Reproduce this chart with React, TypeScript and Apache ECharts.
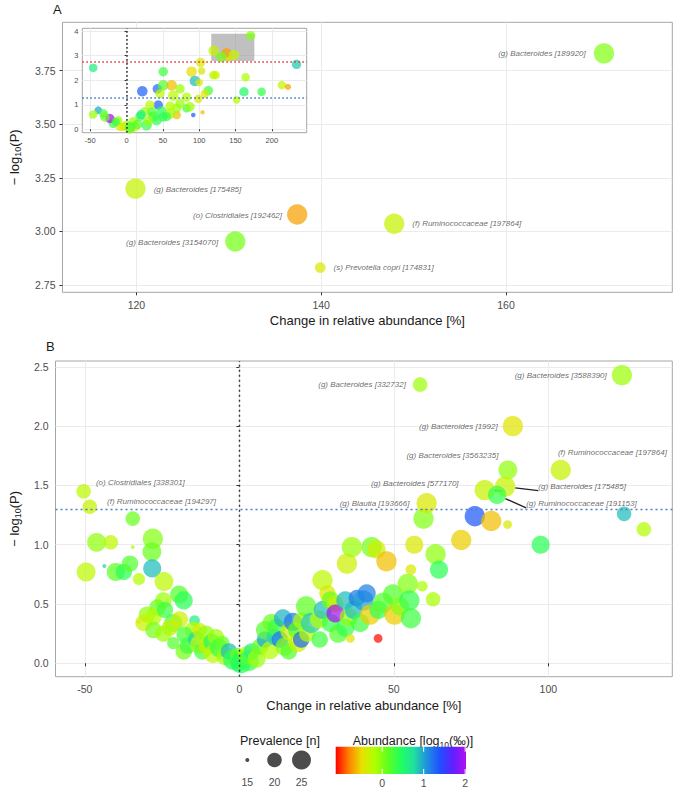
import React, { useEffect, useRef } from "react";
import * as echarts from "echarts";

const FONT = "'Liberation Sans', Arial, Helvetica, sans-serif";

// ---------------- Panel A : most significant features ----------------
const aLabels = [
  "(g) Bacteroides [189920]",
  "(g) Bacteroides [175485]",
  "(o) Clostridiales [192462]",
  "(g) Bacteroides [3154070]",
  "(f) Ruminococcaceae [197864]",
  "(s) Prevotella copri [174831]",
];
const aChange = [170.6, 119.9, 137.4, 130.7, 147.9, 139.9];
const aLogP = [3.831, 3.2, 3.079, 2.953, 3.036, 2.831];
const aPrevalence = [27, 27, 27, 27, 27, 17];
const aAbundance = [0.0, -0.3, -0.7, 0.05, -0.3, -0.4];

// ---------------- Panel B : labelled features ----------------
const bLabels = [
  "(o) Clostridiales [338301]",
  "(f) Ruminococcaceae [194297]",
  "(g) Bacteroides [332732]",
  "(g) Bacteroides [3588390]",
  "(g) Bacteroides [1992]",
  "(g) Bacteroides [3563235]",
  "(f) Ruminococcaceae [197864]",
  "(g) Bacteroides [577170]",
  "(g) Bacteroides [175485]",
  "(g) Ruminococcaceae [191153]",
  "(g) Blautia [193666]",
];
const bLabChange = [-50.4, -48.4, 58.5, 123.8, 88.5, 86.9, 104.0, 79.4, 86.0, 83.4, 60.6];
const bLabLogP = [1.45, 1.32, 2.35, 2.43, 2.0, 1.63, 1.63, 1.46, 1.49, 1.42, 1.35];
const bLabPrevalence = [20, 20, 20, 27, 27, 25, 27, 27, 27, 24, 27];
const bLabAbundance = [-0.25, -0.3, -0.1, -0.1, -0.45, -0.05, -0.3, -0.3, -0.3, 0.35, -0.4];

// ---------------- Panel B : other features [change %, -log10 P, prevalence n, abundance log10 ‰] ----------------
const bDecreased: number[][] = [
  [-34.5, 1.22, 20, 0.1], [-46.2, 1.02, 25, -0.05], [-41.6, 1.02, 20, -0.25], [-28.0, 1.05, 27, 0.0],
  [-34.5, 0.98, 15, -0.2], [-28.3, 0.94, 25, 0.1], [-49.6, 0.77, 25, -0.25], [-43.7, 0.82, 15, 0.8],
  [-40.0, 0.77, 24, 0.15], [-37.4, 0.77, 22, 0.4], [-35.4, 0.84, 22, 0.2], [-28.2, 0.8, 24, 0.9],
  [-32.5, 0.71, 18, -0.2], [-24.4, 0.69, 25, -0.25], [-19.5, 0.58, 24, 0.2], [-18.0, 0.53, 24, 0.4],
  [-24.6, 0.53, 22, -0.1], [-26.5, 0.47, 22, 0.1], [-29.9, 0.41, 22, -0.05], [-32.6, 0.35, 15, -0.35],
  [-31.0, 0.34, 22, -0.35], [-27.8, 0.39, 22, -0.2], [-24.1, 0.45, 22, 0.3], [-21.4, 0.34, 24, 0.3],
  [-22.5, 0.3, 22, -0.3], [-27.8, 0.28, 22, 0.05], [-24.6, 0.25, 22, -0.1], [-19.3, 0.37, 22, -0.35],
  [-14.5, 0.36, 17, 0.6], [-15.0, 0.28, 22, -0.15], [-17.7, 0.24, 22, 0.25], [-21.4, 0.17, 18, 0.2],
  [-18.0, 0.1, 22, 0.05], [-16.7, 0.15, 22, 0.3], [-14.0, 0.2, 22, 0.8], [-13.0, 0.16, 24, -0.2],
  [-12.9, 0.28, 20, -0.35], [-12.0, 0.1, 22, 0.25], [-10.8, 0.25, 22, -0.05], [-10.3, 0.15, 24, -0.35],
  [-9.0, 0.18, 22, 0.5], [-8.5, 0.08, 24, -0.25], [-7.6, 0.22, 22, -0.1], [-6.6, 0.13, 24, 0.35],
  [-5.5, 0.17, 20, 0.1], [-4.5, 0.06, 24, -0.1], [-3.4, 0.1, 22, 0.9], [-2.0, 0.03, 27, 0.4],
  [-0.7, 0.07, 20, 0.1], [-0.2, 0.01, 24, 0.3],
];
const bIncreased: number[][] = [
  [0.5, 0.0, 27, 0.45], [2.5, 0.07, 24, -0.2], [3.0, 0.02, 27, 0.35], [4.0, 0.1, 22, 0.6],
  [5.6, 0.04, 24, -0.1], [6.7, 0.14, 22, 0.1], [8.3, 0.2, 22, 1.0], [8.3, 0.28, 24, 0.2],
  [9.9, 0.11, 24, -0.2], [10.4, 0.34, 24, 0.1], [11.5, 0.22, 22, 0.8], [12.0, 0.3, 24, 0.3],
  [13.1, 0.2, 22, 1.2], [14.1, 0.38, 24, 0.95], [14.6, 0.14, 24, 0.0], [16.0, 0.1, 22, 0.2],
  [16.2, 0.27, 24, -0.3], [17.3, 0.35, 24, 1.2], [18.4, 0.28, 22, 0.2], [18.9, 0.17, 24, -0.35],
  [20.0, 0.2, 22, 1.25], [20.0, 0.36, 22, -0.15], [21.6, 0.48, 27, 0.15], [22.0, 0.25, 22, -0.2],
  [23.2, 0.34, 27, 0.85], [25.8, 0.37, 24, -0.2], [26.0, 0.2, 22, 0.3], [26.9, 0.7, 27, -0.25],
  [27.0, 0.45, 24, 0.9], [28.5, 0.59, 22, -0.4], [29.5, 0.53, 24, 0.1], [29.5, 0.34, 24, 0.35],
  [31.0, 0.5, 22, -0.3], [31.1, 0.42, 24, 2.0], [32.0, 0.25, 24, 0.2], [34.3, 0.53, 24, 0.9],
  [34.3, 0.3, 24, 0.35], [34.8, 0.84, 27, -0.35], [35.4, 0.39, 24, -0.05], [35.9, 0.21, 16, -0.45],
  [36.4, 0.98, 27, -0.1], [37.0, 0.45, 24, 0.9], [38.0, 0.55, 22, 1.2], [39.1, 0.34, 24, 0.3],
  [40.1, 0.53, 27, 1.0], [41.2, 0.59, 24, 1.15], [42.3, 0.41, 27, -0.55], [42.8, 0.98, 27, 0.05],
  [44.4, 0.96, 24, -0.35], [44.9, 0.21, 16, -1.1], [45.0, 0.45, 24, 0.35], [46.5, 0.51, 27, 0.2],
  [47.6, 0.86, 27, -0.6], [49.7, 0.58, 27, 0.2], [50.2, 0.41, 27, -0.55], [52.0, 0.48, 24, 0.0],
  [54.5, 0.67, 27, 0.0], [55.0, 0.53, 27, 0.35], [55.5, 0.38, 27, 0.3], [55.5, 0.79, 17, -0.4],
  [56.6, 1.0, 24, -0.4], [59.2, 0.65, 17, -0.15], [59.6, 1.22, 27, 0.0], [62.7, 0.54, 20, -0.15],
  [63.5, 0.92, 27, -0.05], [64.6, 0.79, 24, 0.4], [71.8, 1.04, 27, -0.55], [76.2, 1.24, 27, 1.35],
  [81.5, 1.2, 27, -0.6], [86.8, 1.17, 16, -0.4], [97.5, 1.0, 24, 0.4], [124.5, 1.26, 20, 0.9],
  [130.9, 1.13, 20, -0.2],
];

// ---------------- Inset : all features ----------------
const insetPoints: number[][] = [
  [-46, 2.51, 22, 0.6], [234, 2.65, 24, 0.85], [170.8, 3.82, 24, 0.0], [119.9, 3.2, 27, -0.3],
  [137.7, 3.1, 27, -0.7], [130.7, 2.95, 27, 0.05], [147.8, 3.03, 27, -0.3], [140.0, 2.86, 17, -0.4],
  [101.9, 2.73, 24, -0.4], [103.3, 2.38, 20, -0.4], [89.5, 2.35, 27, -0.5], [50.4, 2.35, 24, 0.3],
  [94.1, 1.97, 27, 0.9], [100, 1.91, 20, -0.4], [119.4, 2.21, 22, -0.2], [122.6, 2.21, 22, -0.35],
  [163.9, 2.12, 22, -0.15], [112.5, 1.58, 24, 0.3], [161.6, 1.53, 24, 0.5], [185.9, 1.53, 22, 0.35],
  [213.9, 1.8, 22, -0.3], [222.2, 1.73, 18, -0.7], [151.5, 1.2, 20, -0.2], [21.6, 1.55, 27, 1.3],
  [42.3, 1.65, 24, 1.25], [50.4, 1.79, 27, 0.2], [45.9, 1.45, 24, -0.25], [62.0, 1.79, 27, -0.6],
  [73.5, 1.65, 24, -0.1], [64.3, 1.37, 27, -0.25], [82.6, 1.31, 24, -0.2], [98.7, 1.24, 22, -0.4],
  [107.9, 1.45, 22, -0.4], [91.8, 0.58, 16, 1.35], [104.6, 0.69, 16, -0.6], [68.9, 0.58, 22, -0.6],
  [82.6, 0.86, 22, 0.3], [73.5, 1.06, 24, -0.1], [43.6, 0.99, 24, 1.3], [32.1, 0.99, 24, -0.25],
  [25.2, 0.72, 24, -0.1], [48.2, 0.72, 27, 0.4], [59.7, 0.65, 27, -0.1], [36.7, 0.52, 27, 0.35],
  [18.4, 0.52, 24, 0.3], [9.2, 0.31, 24, -0.1], [0, 0.17, 24, -0.1], [-4.6, 0.1, 22, -0.4],
  [-18.4, 0.24, 24, 0.3], [-23, 0.44, 24, 2.0], [-39, 0.78, 20, 1.0], [-46, 0.6, 22, -0.1],
  [-32.1, 0.65, 22, 0.3], [-11.5, 0.37, 22, -0.1], [-9.2, 0.1, 22, -0.4], [4.6, 0.03, 27, -0.3],
  [11.5, 0.1, 24, -0.35], [27.5, 0.17, 27, 0.35], [41.3, 0.37, 27, 0.35], [55.1, 0.52, 24, 0.3],
  [68.9, 0.86, 24, -0.1], [87.3, 0.92, 24, -0.1], [15, 0.2, 24, 0.2], [30, 0.35, 24, -0.1],
  [50, 0.5, 24, 0.4], [60, 0.95, 24, -0.2], [-30, 0.5, 24, 0.1], [-15, 0.3, 22, 0.3],
  [5, 0.08, 27, 0.3], [20, 0.6, 24, 0.6], [35, 0.7, 24, 0.2],
];

// ---------------- ticks, thresholds, legend keys ----------------
const aXTicks = [120, 140, 160];
const aYTicks = [2.75, 3.0, 3.25, 3.5, 3.75];
const bXTicks = [-50, 0, 50, 100];
const bYTicks = [0, 0.5, 1, 1.5, 2, 2.5];
const insetXTicks = [-50, 0, 50, 100, 150, 200];
const insetYTicks = [0, 1, 2, 3, 4];
const pThreshold = 1.3;
const strictThreshold = 2.76;
const highlightBox = [[116.6, 2.79], [175.9, 3.9]];
const prevalenceKeys = [15, 20, 25];
const abundanceTicks = [0, 1, 2];
const ABUND_MIN = -1.12;
const ABUND_MAX = 2.02;

// ---------------- styles ----------------
const ABUND_COLORS = [
  "#ff0000", "#ff8000", "#e8e000", "#b0ff00", "#60ff20", "#20ff60",
  "#20e0a0", "#2090e0", "#2050ff", "#6020ff", "#b010f0",
];
const POINT_OPACITY = 0.72;
const N_MIN = 15, N_MAX = 28, D_MIN = 4, D_MAX = 21;
const diam = (n: number) => D_MIN + (D_MAX - D_MIN) * Math.sqrt(Math.max(0, n - N_MIN) / (N_MAX - N_MIN));

const aLabelLayout = [
  { side: "left", dx: -3, dy: 0 },
  { side: "right", dx: 3, dy: 1 },
  { side: "left", dx: 0, dy: 1 },
  { side: "left", dx: -2, dy: 1 },
  { side: "right", dx: 3, dy: 0 },
  { side: "right", dx: 3, dy: 0 },
];
const bLabelLayout = [
  { side: "right", dx: 0, dy: -9, line: false },
  { side: "right", dx: 5, dy: -5, line: false },
  { side: "left", dx: -2, dy: 0, line: false },
  { side: "left", dx: 0, dy: 0, line: false },
  { side: "left", dx: 0, dy: 0, line: false },
  { side: "left", dx: 5, dy: -14, line: false },
  { side: "right", dx: -18, dy: -17, line: false },
  { side: "left", dx: -11, dy: -7, line: true },
  { side: "right", dx: 18, dy: 0, line: true },
  { side: "right", dx: 15, dy: 9, line: true },
  { side: "left", dx: -2, dy: 0, line: false },
];

const tickLabel = { color: "#4d4d4d", fontSize: 10.5, fontFamily: FONT };
const titleStyle = { color: "#1a1a1a", fontSize: 13, fontFamily: FONT };
const yName = "{t|− log}{s|10}{t|(P)}";
const yNameStyle = {
  fontFamily: FONT,
  rich: {
    t: { fontSize: 13, lineHeight: 16, fontFamily: FONT, color: "#1a1a1a" },
    s: { fontSize: 9, lineHeight: 10, fontFamily: FONT, color: "#1a1a1a", verticalAlign: "bottom" },
  },
};

function axis(
  gridIndex: number, min: number, max: number, ticks: number[], digits: number,
  extra: any = {}, small = false
) {
  return {
    type: "value",
    gridIndex, min, max,
    axisLine: { show: false },
    axisTick: { show: true, length: small ? 2 : 3, lineStyle: { color: "#333", width: 1 }, customValues: ticks },
    axisLabel: {
      customValues: ticks,
      formatter: (v: number) => v.toFixed(digits),
      ...(small ? { color: "#4d4d4d", fontSize: 7.5, fontFamily: FONT } : tickLabel),
      margin: small ? 4 : 7,
    },
    splitLine: { show: true, lineStyle: { color: "#ebebeb", width: 1 } },
    ...extra,
  };
}

const labelText = { fontStyle: "italic", color: "#2b2b2b", fontFamily: FONT };

function buildOption() {
  const aData = aChange.map((x, i) => ({
    value: [x, aLogP[i], aPrevalence[i], aAbundance[i]],
    name: aLabels[i],
    label: {
      show: true,
      position: aLabelLayout[i].side,
      offset: [aLabelLayout[i].dx, aLabelLayout[i].dy],
      formatter: aLabels[i],
      fontSize: 8,
      ...labelText,
    },
  }));
  const bLabData = bLabChange.map((x, i) => ({
    value: [x, bLabLogP[i], bLabPrevalence[i], bLabAbundance[i]],
    name: bLabels[i],
    label: {
      show: true,
      position: bLabelLayout[i].side,
      offset: [bLabelLayout[i].dx, bLabelLayout[i].dy],
      formatter: bLabels[i],
      fontSize: 8,
      ...labelText,
    },
    labelLine: bLabelLayout[i].line
      ? { show: true, lineStyle: { color: "#222", width: 1.3 } }
      : { show: false },
  }));

  const itemStyle = { opacity: POINT_OPACITY, borderWidth: 0 };
  const sizeFn = (v: number[]) => diam(v[2]);

  const dotted = (color: string) => ({ color, type: [2, 3], width: 1.4 });

  const xMin = 112, xMax = 178;

  // colour bar geometry
  const cbX = 335.7, cbY = 746.7, cbW = 130.3, cbH = 27.3;
  const cbPx = (v: number) => cbX + ((v - ABUND_MIN) / (ABUND_MAX - ABUND_MIN)) * cbW;
  const prevKeyX = [247.3, 274.5, 301.5];

  const graphic: any[] = [
    { type: "text", style: { text: "A", x: 53, y: 9, textVerticalAlign: "middle", fontSize: 13, fontFamily: FONT, fill: "#1a1a1a" } },
    { type: "text", style: { text: "B", x: 46, y: 346, textVerticalAlign: "middle", fontSize: 13, fontFamily: FONT, fill: "#1a1a1a" } },
    { type: "text", style: { text: "Prevalence [n]", x: 280, y: 741, textAlign: "center", textVerticalAlign: "middle", fontSize: 12.5, fontFamily: FONT, fill: "#1a1a1a" } },
    {
      type: "text",
      style: {
        text: "{t|Abundance [log}{s|10}{t|(‰)]}",
        x: 413, y: 741, textAlign: "center", textVerticalAlign: "middle", fontFamily: FONT,
        rich: {
          t: { fontSize: 12.5, lineHeight: 16, fontFamily: FONT, fill: "#1a1a1a", color: "#1a1a1a" },
          s: { fontSize: 8.5, lineHeight: 10, fontFamily: FONT, fill: "#1a1a1a", color: "#1a1a1a", verticalAlign: "bottom" },
        },
      },
    },
    {
      type: "rect",
      shape: { x: cbX, y: cbY, width: cbW, height: cbH },
      style: {
        fill: new echarts.graphic.LinearGradient(0, 0, 1, 0,
          ABUND_COLORS.map((c, i) => ({ offset: i / (ABUND_COLORS.length - 1), color: c }))),
      },
    },
  ];
  prevalenceKeys.forEach((n, i) => {
    graphic.push({
      type: "circle",
      shape: { cx: prevKeyX[i], cy: 760, r: diam(n) / 2 },
      style: { fill: "rgba(45,45,45,0.85)" },
    });
    graphic.push({
      type: "text",
      style: { text: String(n), x: prevKeyX[i], y: 782, textAlign: "center", textVerticalAlign: "middle", fontSize: 10.5, fontFamily: FONT, fill: "#4d4d4d" },
    });
  });
  abundanceTicks.forEach((v) => {
    const px = cbPx(v);
    graphic.push({ type: "line", shape: { x1: px, y1: cbY, x2: px, y2: cbY + 5 }, style: { stroke: "#fff", lineWidth: 1 } });
    graphic.push({ type: "line", shape: { x1: px, y1: cbY + cbH - 5, x2: px, y2: cbY + cbH }, style: { stroke: "#fff", lineWidth: 1 } });
    graphic.push({
      type: "text",
      style: { text: String(v), x: px, y: 783, textAlign: "center", textVerticalAlign: "middle", fontSize: 10.5, fontFamily: FONT, fill: "#4d4d4d" },
    });
  });

  return {
    animation: false,
    backgroundColor: "#ffffff",
    textStyle: { fontFamily: FONT },
    grid: [
      { left: 51.7, top: 22.3, width: 620.6, height: 270, show: true, borderColor: "#a6a6a6", borderWidth: 1, backgroundColor: "transparent" },
      { left: 45.3, top: 361, width: 627, height: 315.7, show: true, borderColor: "#a6a6a6", borderWidth: 1, backgroundColor: "transparent" },
      { left: 82.3, top: 28.3, width: 224.4, height: 104.4, show: true, borderColor: "#a6a6a6", borderWidth: 1, backgroundColor: "#ffffff", z: 10 },
    ],
    xAxis: [
      axis(0, xMin, xMax, aXTicks, 0, {
        name: "Change in relative abundance [%]", nameLocation: "middle", nameGap: 22, nameTextStyle: titleStyle,
      }),
      axis(1, -59.5, 140.1, bXTicks, 0, {
        name: "Change in relative abundance [%]", nameLocation: "middle", nameGap: 22, nameTextStyle: titleStyle,
      }),
      axis(2, -61, 248, insetXTicks, 0, { z: 11 }, true),
    ],
    yAxis: [
      axis(0, 2.716, 3.976, aYTicks, 2, { name: yName, nameLocation: "middle", nameGap: 40, nameTextStyle: yNameStyle }),
      axis(1, -0.113, 2.549, bYTicks, 1, { name: yName, nameLocation: "middle", nameGap: 33, nameTextStyle: yNameStyle }),
      axis(2, -0.14, 4.12, insetYTicks, 0, { z: 11 }, true),
    ],
    visualMap: {
      type: "continuous",
      show: false,
      dimension: 3,
      min: ABUND_MIN,
      max: ABUND_MAX,
      seriesIndex: [0, 1, 2, 3, 4],
      inRange: { color: ABUND_COLORS },
    },
    series: [
      {
        type: "scatter", xAxisIndex: 0, yAxisIndex: 0,
        data: aData, symbolSize: sizeFn, itemStyle,
      },
      {
        type: "scatter", xAxisIndex: 1, yAxisIndex: 1,
        data: bDecreased, symbolSize: sizeFn, itemStyle,
      },
      {
        type: "scatter", xAxisIndex: 1, yAxisIndex: 1,
        data: bIncreased, symbolSize: sizeFn, itemStyle,
        markLine: {
          silent: true, symbol: "none", label: { show: false },
          data: [
            { xAxis: 0, lineStyle: dotted("#333333") },
            { yAxis: pThreshold, lineStyle: dotted("#4a7fc0") },
          ],
        },
      },
      {
        type: "scatter", xAxisIndex: 1, yAxisIndex: 1,
        data: bLabData, symbolSize: sizeFn, itemStyle,
      },
      {
        type: "scatter", xAxisIndex: 2, yAxisIndex: 2, z: 12,
        data: insetPoints, symbolSize: (v: number[]) => diam(v[2]) * 0.52, itemStyle,
        markArea: {
          silent: true, z: 11,
          itemStyle: { color: "rgba(150,150,150,0.6)" },
          data: [[{ coord: highlightBox[0] }, { coord: highlightBox[1] }]],
        },
        markLine: {
          silent: true, symbol: "none", label: { show: false }, z: 13,
          data: [
            { xAxis: 0, lineStyle: { color: "#333333", type: [1.6, 2.4], width: 1.5 } },
            { yAxis: pThreshold, lineStyle: { color: "#3f78c8", type: [1.6, 2.4], width: 1.5 } },
            { yAxis: strictThreshold, lineStyle: { color: "#e8313f", type: [1.6, 2.4], width: 1.5 } },
          ],
        },
      },
    ],
    graphic,
  };
}

export default function App() {
  const ref = useRef<HTMLDivElement>(null);
  useEffect(() => {
    const chart = echarts.init(ref.current as HTMLDivElement, null, { renderer: "svg" });
    chart.setOption(buildOption() as any);
    return () => chart.dispose();
  }, []);
  return (
    <div
      ref={ref}
      style={{ position: "fixed", left: 0, top: 0, width: 675, height: 792, background: "#fff" }}
    />
  );
}
